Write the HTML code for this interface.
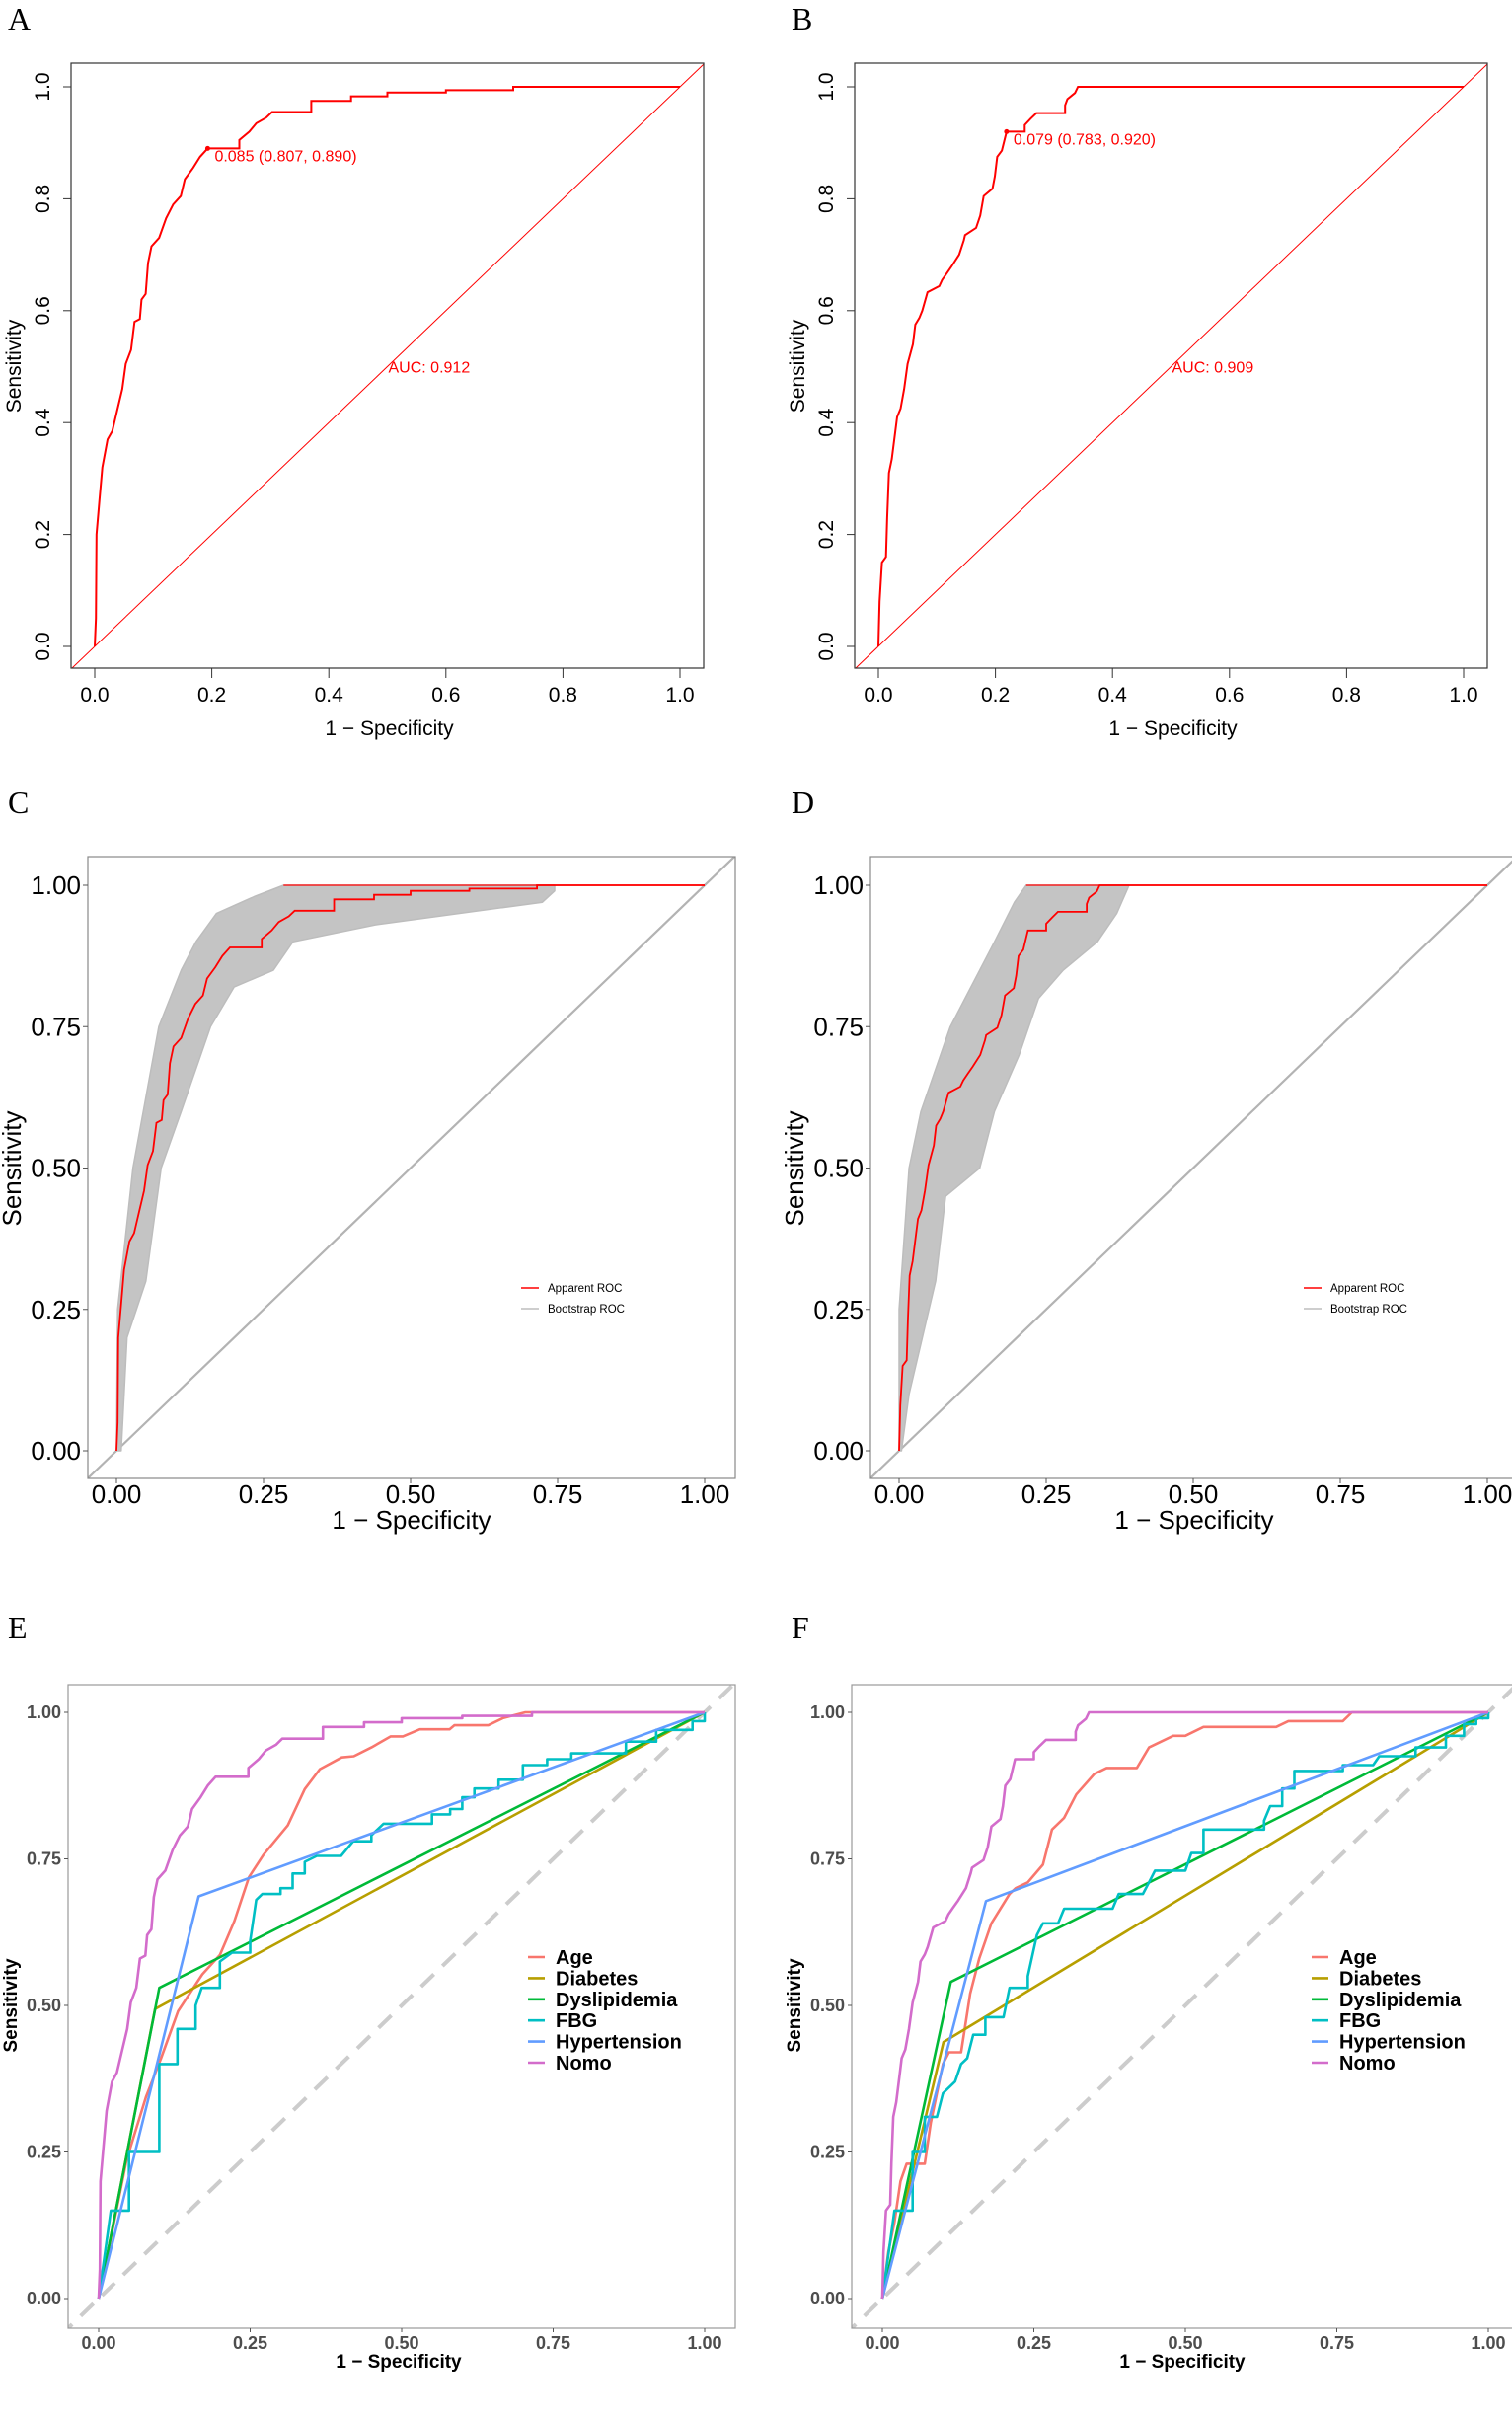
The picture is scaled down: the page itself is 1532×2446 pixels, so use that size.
<!DOCTYPE html>
<html><head><meta charset="utf-8">
<style>
html,body{margin:0;padding:0;background:#fff;}
svg{display:block;}
text{font-family:"Liberation Sans",Arial,sans-serif;}
.lab{font-family:"Liberation Serif","Times New Roman",serif;font-size:32px;fill:#000;}
</style></head>
<body>
<svg id="fig" width="1532" height="2446" viewBox="0 0 1532 2446" xmlns="http://www.w3.org/2000/svg">
<rect width="1532" height="2446" fill="#fff"/>
<text class="lab" x="8" y="30">A</text>
<text class="lab" x="802" y="30">B</text>
<text class="lab" x="8" y="824">C</text>
<text class="lab" x="802" y="824">D</text>
<text class="lab" x="8" y="1660">E</text>
<text class="lab" x="802" y="1660">F</text>
</svg>
<script>
// ---------- data ----------
const trainFpr = [0,0.002,0.003,0.008,0.013,0.022,0.03,0.038,0.047,0.053,0.062,0.068,0.077,0.08,0.087,0.091,0.097,0.11,0.122,0.134,0.147,0.154,0.168,0.18,0.193,0.226,0.247,0.264,0.276,0.293,0.303,0.37,0.438,0.5,0.6,0.715,1];
const trainTpr = [0,0.05,0.2,0.26,0.32,0.37,0.385,0.42,0.46,0.505,0.53,0.58,0.585,0.62,0.63,0.685,0.715,0.73,0.765,0.79,0.805,0.835,0.855,0.875,0.89,0.89,0.905,0.92,0.935,0.945,0.955,0.975,0.983,0.99,0.994,1,1];
const testFpr = [0,0.002,0.006,0.013,0.015,0.018,0.023,0.029,0.032,0.038,0.044,0.05,0.059,0.063,0.07,0.075,0.084,0.104,0.109,0.117,0.125,0.138,0.146,0.148,0.167,0.174,0.18,0.195,0.199,0.203,0.211,0.219,0.25,0.26,0.27,0.319,0.323,0.336,0.341,1];
const testTpr = [0,0.08,0.15,0.16,0.23,0.31,0.335,0.385,0.41,0.425,0.46,0.505,0.54,0.575,0.587,0.6,0.633,0.644,0.655,0.667,0.679,0.7,0.726,0.735,0.748,0.77,0.805,0.818,0.84,0.875,0.886,0.92,0.932,0.943,0.953,0.967,0.978,0.989,1,1];
const cutTrain = [0.193,0.89]; const cutTrainLabel = "0.085 (0.807, 0.890)"; const aucTrain = "AUC: 0.912";
const cutTest = [0.219,0.92]; const cutTestLabel = "0.079 (0.783, 0.920)"; const aucTest = "AUC: 0.909";
// bootstrap envelopes (upper = leftmost, lower = rightmost)
const bootCUpFpr = [0,0.002,0.028,0.072,0.11,0.135,0.17,0.234,0.284,0.284];
const bootCUpTpr = [0,0.25,0.5,0.75,0.85,0.9,0.95,0.98,1,1];
const bootCLoFpr = [0.008,0.018,0.05,0.076,0.11,0.16,0.2,0.267,0.3,0.44,0.724,0.745,0.745];
const bootCLoTpr = [0,0.2,0.3,0.5,0.6,0.75,0.82,0.85,0.9,0.93,0.97,0.99,1];
const bootDUpFpr = [0,0,0.017,0.037,0.087,0.112,0.162,0.196,0.216];
const bootDUpTpr = [0,0.25,0.5,0.6,0.75,0.8,0.9,0.97,1];
const bootDLoFpr = [0.004,0.017,0.062,0.079,0.137,0.162,0.204,0.237,0.279,0.337,0.37,0.391];
const bootDLoTpr = [0,0.1,0.3,0.45,0.5,0.6,0.7,0.8,0.85,0.9,0.95,1];
const tickLabels1 = ["0.0","0.2","0.4","0.6","0.8","1.0"];
const tickVals1 = [0,0.2,0.4,0.6,0.8,1];
const tickLabels2 = ["0.00","0.25","0.50","0.75","1.00"];
const tickVals2 = [0,0.25,0.5,0.75,1];
const legendNames = ["Age","Diabetes","Dyslipidemia","FBG","Hypertension","Nomo"];
const ageEFpr = [0,0.046,0.078,0.103,0.131,0.171,0.2,0.224,0.248,0.272,0.312,0.34,0.365,0.401,0.421,0.45,0.482,0.502,0.53,0.579,0.587,0.643,0.667,0.704,1];
const ageETpr = [0,0.236,0.344,0.41,0.49,0.553,0.586,0.644,0.719,0.757,0.807,0.869,0.903,0.923,0.925,0.94,0.959,0.959,0.971,0.971,0.978,0.978,0.99,1,1];
const diabEFpr = [0,0.093,1]; const diabETpr = [0,0.494,1];
const dysEFpr = [0,0.1,1]; const dysETpr = [0,0.53,1];
const hypEFpr = [0,0.165,1]; const hypETpr = [0,0.686,1];
const fbgEFpr = [0,0.02,0.05,0.1,0.13,0.16,0.17,0.2,0.22,0.25,0.26,0.27,0.3,0.32,0.34,0.36,0.4,0.42,0.45,0.47,0.52,0.55,0.58,0.6,0.62,0.66,0.7,0.74,0.78,0.83,0.87,0.92,0.98,1];
const fbgETpr = [0,0.15,0.25,0.4,0.46,0.5,0.53,0.575,0.59,0.61,0.68,0.69,0.7,0.725,0.745,0.755,0.755,0.78,0.79,0.81,0.81,0.826,0.835,0.855,0.87,0.885,0.91,0.92,0.93,0.93,0.95,0.97,0.985,1];
const ageFFpr = [0,0.01,0.02,0.03,0.04,0.07,0.08,0.1,0.11,0.13,0.145,0.16,0.18,0.21,0.22,0.24,0.265,0.28,0.3,0.32,0.35,0.37,0.42,0.44,0.48,0.5,0.53,0.65,0.67,0.76,0.775,1];
const ageFTpr = [0,0.08,0.13,0.2,0.23,0.23,0.3,0.4,0.42,0.42,0.52,0.58,0.64,0.69,0.7,0.71,0.74,0.8,0.82,0.86,0.895,0.905,0.905,0.94,0.96,0.96,0.975,0.975,0.985,0.985,1,1];
const diabFFpr = [0,0.101,1]; const diabFTpr = [0,0.4375,1];
const dysFFpr = [0,0.113,1]; const dysFTpr = [0,0.54,1];
const hypFFpr = [0,0.171,1]; const hypFTpr = [0,0.678,1];
const fbgFFpr = [0,0.02,0.05,0.07,0.09,0.1,0.12,0.13,0.14,0.15,0.17,0.2,0.21,0.24,0.255,0.265,0.29,0.3,0.38,0.39,0.43,0.44,0.45,0.5,0.51,0.53,0.6,0.63,0.64,0.66,0.68,0.73,0.76,0.81,0.82,0.86,0.88,0.91,0.93,0.96,0.98,1];
const fbgFTpr = [0,0.15,0.25,0.31,0.31,0.35,0.37,0.4,0.41,0.45,0.48,0.48,0.53,0.55,0.62,0.64,0.64,0.665,0.665,0.69,0.69,0.71,0.73,0.73,0.76,0.8,0.8,0.815,0.84,0.87,0.9,0.9,0.91,0.91,0.925,0.925,0.94,0.94,0.96,0.98,0.99,1];

// ---------- drawing ----------
const NS = "http://www.w3.org/2000/svg";
const svg = document.getElementById("fig");
function el(tag, attrs, parent){ const e=document.createElementNS(NS,tag); for(const k in attrs) e.setAttribute(k,attrs[k]); (parent||svg).appendChild(e); return e; }
function txt(s, attrs, parent){ const e=el("text",attrs,parent); e.textContent=s; return e; }

function makePanel(p){
  const sx = v => p.x0 + (p.x1-p.x0)*v;
  const sy = v => p.y0 + (p.y1-p.y0)*v;
  const g = el("g",{});
  
  
  const cid = "clip-"+p.name;
  const cp = el("clipPath",{id:cid},g); el("rect",{x:p.l,y:p.t,width:p.r-p.l,height:p.b-p.t},cp);
  const plot = el("g",{"clip-path":"url(#"+cid+")"},g);
  return {g,plot,sx,sy};
}
// hybrid: large horizontal gaps are drawn as steps, small ones as direct segments
function pathFrom(fx, ty, sx, sy, step){
  let d = "M"+sx(fx[0]).toFixed(1)+" "+sy(ty[0]).toFixed(1);
  for(let i=1;i<fx.length;i++){
    const dxv = fx[i]-fx[i-1], dyv = ty[i]-ty[i-1];
    if(step && dxv > 0.02 && dyv > 0) d += "H"+sx(fx[i]).toFixed(1)+"V"+sy(ty[i]).toFixed(1);
    else d += "L"+sx(fx[i]).toFixed(1)+" "+sy(ty[i]).toFixed(1);
  }
  return d;
}

// ---- Panels A/B (base R style) ----
function baseRoc(dx, fpr, tpr, cut, cutLabel, auc, nm){
  const p = {name:"panel-"+nm, l:72+dx, r:713+dx, t:64, b:677, x0:96+dx, x1:689+dx, y0:655, y1:88};
  const P = makePanel(p);
  const diag = el("line",{x1:P.sx(-0.2),y1:P.sy(-0.2),x2:P.sx(1.2),y2:P.sy(1.2),stroke:"#ff0000","stroke-width":1},P.plot);
  
  
  const c = el("path",{d:pathFrom(fpr,tpr,P.sx,P.sy,true),fill:"none",stroke:"#ff0000","stroke-width":2},P.plot);
  
  
  const pt = el("circle",{cx:P.sx(cut[0]),cy:P.sy(cut[1]),r:2.5,fill:"#ff0000"},P.plot);
  
  
  const cl = txt(cutLabel,{x:P.sx(cut[0])+7,y:P.sy(cut[1])+13,"font-size":16,fill:"#ff0000"},P.g);
  
  
  const al = txt(auc,{x:P.sx(0.5)+1,y:P.sy(0.5)+6,"font-size":16,fill:"#ff0000"},P.g);
  
  
  el("rect",{x:p.l,y:p.t,width:p.r-p.l,height:p.b-p.t,fill:"none",stroke:"#333","stroke-width":1.2},P.g);
  for(let i=0;i<tickVals1.length;i++){
    const x=P.sx(tickVals1[i]), y=P.sy(tickVals1[i]);
    el("line",{x1:x,x2:x,y1:p.b,y2:p.b+10,stroke:"#333"},P.g);
    const xt = txt(tickLabels1[i],{x:x,y:p.b+34,"font-size":21,"text-anchor":"middle",fill:"#000"},P.g);
    
    
    el("line",{x1:p.l-8,x2:p.l,y1:y,y2:y,stroke:"#333"},P.g);
    const yt = txt(tickLabels1[i],{x:0,y:0,"font-size":21,"text-anchor":"middle",fill:"#000",transform:"translate("+(p.l-22)+","+y+") rotate(-90)"},P.g);
    
    
  }
  const xtl = txt("1 − Specificity",{x:(P.sx(0)+P.sx(1))/2+2,y:p.b+68,"font-size":21,"text-anchor":"middle",fill:"#000"},P.g);
  
  
  const ytl = txt("Sensitivity",{x:0,y:0,"font-size":21,"text-anchor":"middle",fill:"#000",transform:"translate("+(p.l-51)+","+371+") rotate(-90)"},P.g);
  
  
}
baseRoc(0, trainFpr, trainTpr, cutTrain, cutTrainLabel, aucTrain, "a");
baseRoc(794, testFpr, testTpr, cutTest, cutTestLabel, aucTest, "b");

// ---- Panels C/D (bootstrap) ----
function bootPanel(dx, upF, upT, loF, loT, fpr, tpr, nm){
  const p = {name:"panel-"+nm, l:89+dx, r:745+dx, t:868, b:1498, x0:118+dx, x1:714+dx, y0:1470, y1:897};
  const P = makePanel(p);
  const diag = el("line",{x1:P.sx(-0.2),y1:P.sy(-0.2),x2:P.sx(1.2),y2:P.sy(1.2),stroke:"#b3b3b3","stroke-width":2.2},P.plot);
  
  
  let d = pathFrom(upF,upT,P.sx,P.sy,false);
  for(let i=loF.length-1;i>=0;i--) d += "L"+P.sx(loF[i]).toFixed(1)+" "+P.sy(loT[i]).toFixed(1);
  d += "Z";
  const band = el("path",{d:d,fill:"#c4c4c4",stroke:"#bdbdbd","stroke-width":1.5,"stroke-linejoin":"round"},P.plot);
  
  
  const top = el("path",{d:"M"+P.sx(upF[upF.length-1])+" "+P.sy(1)+"H"+P.sx(1),stroke:"#ff0000","stroke-width":1.2,fill:"none"},P.plot);
  
  
  const c = el("path",{d:pathFrom(fpr,tpr,P.sx,P.sy,true),fill:"none",stroke:"#ff0000","stroke-width":1.8},P.plot);
  
  
  el("rect",{x:p.l,y:p.t,width:p.r-p.l,height:p.b-p.t,fill:"none",stroke:"#888","stroke-width":1.2},P.g);
  for(let i=0;i<tickVals2.length;i++){
    const x=P.sx(tickVals2[i]), y=P.sy(tickVals2[i]);
    el("line",{x1:x,x2:x,y1:p.b,y2:p.b+5,stroke:"#555"},P.g);
    const xt = txt(tickLabels2[i],{x:x,y:p.b+25,"font-size":26,"text-anchor":"middle",fill:"#000"},P.g);
    
    
    el("line",{x1:p.l-5,x2:p.l,y1:y,y2:y,stroke:"#555"},P.g);
    const yt = txt(tickLabels2[i],{x:p.l-7,y:y+9,"font-size":26,"text-anchor":"end",fill:"#000"},P.g);
    
    
  }
  const xtl = txt("1 − Specificity",{x:(p.l+p.r)/2,y:p.b+51,"font-size":26,"text-anchor":"middle",fill:"#000"},P.g);
  
  
  const ytl = txt("Sensitivity",{x:0,y:0,"font-size":26,"text-anchor":"middle",fill:"#000",transform:"translate("+(p.l-68)+",1184) rotate(-90)"},P.g);
  
  
  const lg = el("g",{},P.g);
  
  
  el("line",{x1:528+dx,x2:546+dx,y1:1305,y2:1305,stroke:"#ff0000","stroke-width":1.5},lg);
  txt("Apparent ROC",{x:555+dx,y:1309,"font-size":11.5,fill:"#000"},lg);
  el("line",{x1:528+dx,x2:546+dx,y1:1326,y2:1326,stroke:"#bebebe","stroke-width":1.5},lg);
  txt("Bootstrap ROC",{x:555+dx,y:1330,"font-size":11.5,fill:"#000"},lg);
}
bootPanel(0, bootCUpFpr, bootCUpTpr, bootCLoFpr, bootCLoTpr, trainFpr, trainTpr, "c");
bootPanel(793, bootDUpFpr, bootDUpTpr, bootDLoFpr, bootDLoTpr, testFpr, testTpr, "d");

// ---- Panels E/F (multi-variable) ----
const colors = ["#F8766D","#B79F00","#00BA38","#00BFC4","#619CFF","#D36CCB"];
function multiPanel(dx, series, nm){
  const p = {name:"panel-"+nm, l:69+dx, r:745+dx, t:1707, b:2359, x0:100+dx, x1:714+dx, y0:2329, y1:1735};
  const P = makePanel(p);
  const diag = el("line",{x1:P.sx(-0.1),y1:P.sy(-0.1),x2:P.sx(1.1),y2:P.sy(1.1),stroke:"#cccccc","stroke-width":4,"stroke-dasharray":"18,12"},P.plot);
  
  
  for(let i=0;i<series.length;i++){
    const s=series[i];
    const c = el("path",{d:pathFrom(s[0],s[1],P.sx,P.sy,s[2]),fill:"none",stroke:colors[i],"stroke-width":2.6,"stroke-linejoin":"round"},P.plot);
    
    
  }
  el("rect",{x:p.l,y:p.t,width:p.r-p.l,height:p.b-p.t,fill:"none",stroke:"#999","stroke-width":1.2},P.g);
  for(let i=0;i<tickVals2.length;i++){
    const x=P.sx(tickVals2[i]), y=P.sy(tickVals2[i]);
    el("line",{x1:x,x2:x,y1:p.b,y2:p.b+4,stroke:"#555"},P.g);
    const xt = txt(tickLabels2[i],{x:x,y:p.b+21,"font-size":18,"font-weight":"bold","text-anchor":"middle",fill:"#4d4d4d"},P.g);
    
    
    el("line",{x1:p.l-4,x2:p.l,y1:y,y2:y,stroke:"#555"},P.g);
    const yt = txt(tickLabels2[i],{x:p.l-7,y:y+6,"font-size":18,"font-weight":"bold","text-anchor":"end",fill:"#4d4d4d"},P.g);
    
    
  }
  const xtl = txt("1 − Specificity",{x:(p.l+p.r)/2-3,y:p.b+40,"font-size":19,"font-weight":"bold","text-anchor":"middle",fill:"#000"},P.g);
  
  
  const ytl = txt("Sensitivity",{x:0,y:0,"font-size":19,"font-weight":"bold","text-anchor":"middle",fill:"#000",transform:"translate("+(p.l-52)+",2032) rotate(-90)"},P.g);
  
  
  for(let i=0;i<legendNames.length;i++){
    const y = 1983 + i*21.4;
    const lg = el("g",{},P.g);
    
    
    el("line",{x1:535+dx,x2:552+dx,y1:y,y2:y,stroke:colors[i],"stroke-width":2.6},lg);
    txt(legendNames[i],{x:563+dx,y:y+7,"font-size":20,"font-weight":"bold",fill:"#000"},lg);
  }
}
multiPanel(0, [[ageEFpr,ageETpr,false],[diabEFpr,diabETpr,false],[dysEFpr,dysETpr,false],[fbgEFpr,fbgETpr,true],[hypEFpr,hypETpr,false],[trainFpr,trainTpr,true]], "e");
multiPanel(794, [[ageFFpr,ageFTpr,false],[diabFFpr,diabFTpr,false],[dysFFpr,dysFTpr,false],[fbgFFpr,fbgFTpr,true],[hypFFpr,hypFTpr,false],[testFpr,testTpr,true]], "f");
</script>
</body></html>
